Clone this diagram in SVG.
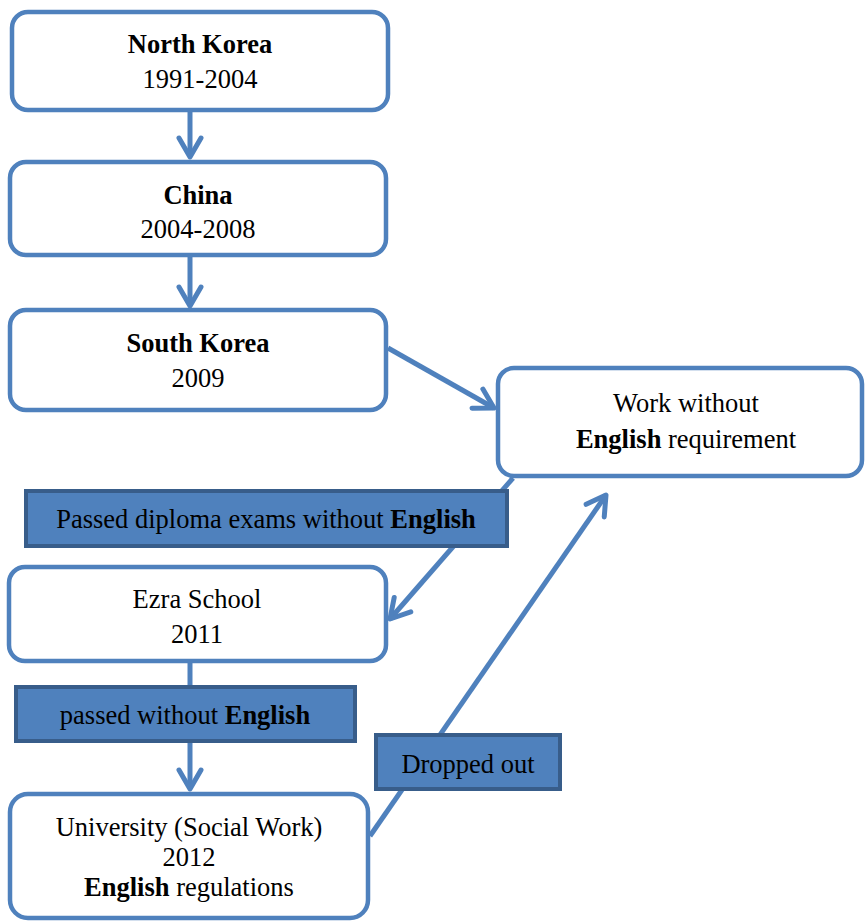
<svg xmlns="http://www.w3.org/2000/svg" width="865" height="922" viewBox="0 0 865 922">
<style>
.node{fill:#fff;stroke:#4F81BD;stroke-width:4.5}
.lbl{fill:#4F81BD;stroke:#385D8A;stroke-width:4}
.con{stroke:#4F81BD;stroke-width:5;fill:none}
text{font-family:'Liberation Serif','DejaVu Serif',serif;font-size:26.5px;fill:#000;text-anchor:middle}
.b{font-weight:bold}
</style>
<defs>
<marker id="ah" markerUnits="userSpaceOnUse" viewBox="-25 -15 30 30" markerWidth="30" markerHeight="30" refX="0" refY="0" orient="auto" overflow="visible">
<path d="M-19,-11 L0,0 L-19,11" fill="none" stroke="#4F81BD" stroke-width="5" stroke-linecap="round" stroke-linejoin="round"/>
</marker>
</defs>
<g id="connectors">
<line class="con" x1="190" y1="110" x2="190" y2="157" marker-end="url(#ah)"/>
<line class="con" x1="190" y1="255" x2="190" y2="306" marker-end="url(#ah)"/>
<line class="con" x1="388" y1="348" x2="494" y2="408" marker-end="url(#ah)"/>
<line class="con" x1="513" y1="478" x2="390" y2="619" marker-end="url(#ah)"/>
<line class="con" x1="190" y1="661" x2="190" y2="789" marker-end="url(#ah)"/>
<line class="con" x1="370" y1="836" x2="606" y2="495" marker-end="url(#ah)"/>
</g>
<g id="north-korea">
<rect class="node" x="12" y="12" width="376" height="98" rx="16"/>
<text x="200" y="53" class="b">North Korea</text>
<text x="200" y="88">1991-2004</text>
</g>
<g id="china">
<rect class="node" x="10" y="162" width="376" height="93" rx="16"/>
<text x="198" y="204" class="b">China</text>
<text x="198" y="238">2004-2008</text>
</g>
<g id="south-korea">
<rect class="node" x="10" y="310" width="376" height="100" rx="16"/>
<text x="198" y="352" class="b">South Korea</text>
<text x="198" y="387">2009</text>
</g>
<g id="work">
<rect class="node" x="498" y="368" width="364" height="108" rx="16"/>
<text x="686" y="412">Work without</text>
<text x="686" y="448"><tspan class="b">English</tspan> requirement</text>
</g>
<g id="ezra">
<rect class="node" x="9" y="567" width="377" height="94" rx="16"/>
<text x="197" y="608">Ezra School</text>
<text x="197" y="643">2011</text>
</g>
<g id="university">
<rect class="node" x="10" y="794" width="358" height="124" rx="18"/>
<text x="189" y="836">University (Social Work)</text>
<text x="189" y="866">2012</text>
<text x="189" y="896"><tspan class="b">English</tspan> regulations</text>
</g>
<g id="label-diploma">
<rect class="lbl" x="26" y="491" width="481" height="55"/>
<text x="266" y="528">Passed diploma exams without <tspan class="b">English</tspan></text>
</g>
<g id="label-passed">
<rect class="lbl" x="16" y="687" width="339" height="54"/>
<text x="185" y="724">passed without <tspan class="b">English</tspan></text>
</g>
<g id="label-dropped">
<rect class="lbl" x="376" y="735" width="184" height="54"/>
<text x="468" y="773">Dropped out</text>
</g>
</svg>
